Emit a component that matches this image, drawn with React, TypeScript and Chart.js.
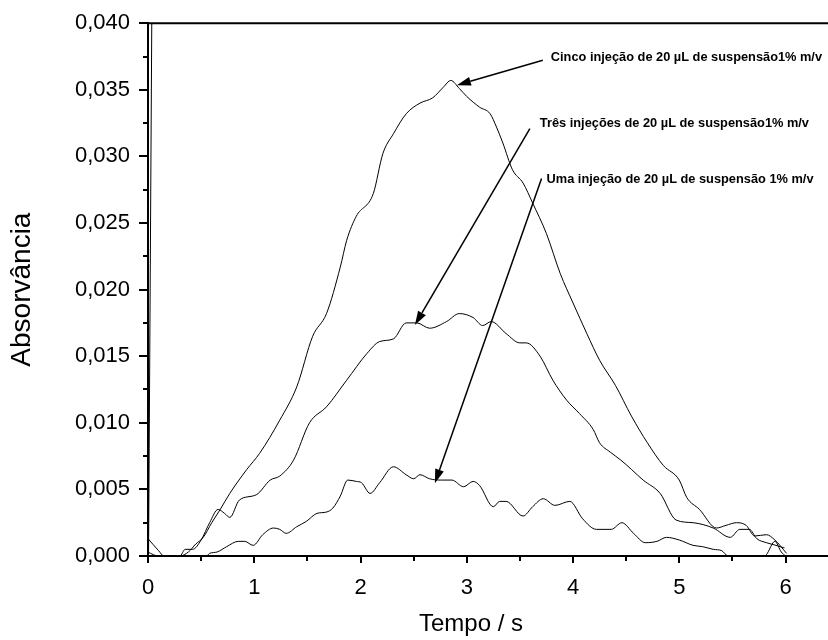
import React, { useEffect, useRef } from 'react';
import { Chart, registerables } from 'chart.js';

Chart.register(...registerables);

// Tempo (s), Absorvância
const cinco: [number, number][] = [
  [0, 0.0003], [0.05, 0.0001], [0.1, 0], [0.3, 0], [0.38, 0.0003], [0.45, 0.0009], [0.52, 0.0014],
  [0.6, 0.0025], [0.68, 0.0035], [0.77, 0.0047], [0.93, 0.0065], [1.05, 0.0077], [1.24, 0.0102],
  [1.4, 0.0127], [1.55, 0.0165], [1.68, 0.0182], [1.81, 0.0217], [1.87, 0.0237], [1.96, 0.0255],
  [2.12, 0.0272], [2.21, 0.0302], [2.31, 0.0317], [2.43, 0.0332], [2.56, 0.034], [2.68, 0.0344],
  [2.78, 0.0352], [2.85, 0.0357], [2.93, 0.0351], [3.0, 0.0345], [3.12, 0.0337], [3.22, 0.0332],
  [3.28, 0.0322], [3.34, 0.031], [3.43, 0.029], [3.53, 0.028], [3.62, 0.0265], [3.75, 0.0242],
  [3.88, 0.0212], [4.0, 0.019], [4.13, 0.0167], [4.25, 0.0147], [4.4, 0.0128], [4.55, 0.0105],
  [4.7, 0.0085], [4.85, 0.0068], [5.0, 0.0057], [5.07, 0.0044], [5.19, 0.0035], [5.35, 0.0021],
  [5.44, 0.0023], [5.54, 0.0025], [5.63, 0.0023], [5.71, 0.0015], [5.82, 0.0016], [5.9, 0.0012],
  [6.01, 0.0002],
];

const tres: [number, number][] = [
  [0, 0.0013], [0.1, 0.0004], [0.15, 0], [0.3, 0], [0.35, 0.0005], [0.42, 0.0005], [0.5, 0.0012],
  [0.58, 0.0025], [0.66, 0.0035], [0.72, 0.0032], [0.77, 0.0029], [0.86, 0.0042], [1.02, 0.0046],
  [1.15, 0.0057], [1.24, 0.006], [1.37, 0.0072], [1.52, 0.01], [1.68, 0.0112], [1.87, 0.0132],
  [2.06, 0.0152], [2.18, 0.0161], [2.31, 0.0163], [2.43, 0.0175], [2.53, 0.0175], [2.65, 0.0171],
  [2.81, 0.0176], [2.93, 0.0182], [3.06, 0.0179], [3.15, 0.0173], [3.23, 0.0176], [3.37, 0.0167],
  [3.5, 0.016], [3.56, 0.016], [3.69, 0.015], [3.81, 0.0132], [3.94, 0.0117], [4.06, 0.0107],
  [4.19, 0.0095], [4.25, 0.0085], [4.35, 0.0078], [4.45, 0.0072], [4.55, 0.0065], [4.66, 0.0057],
  [4.82, 0.0047], [4.97, 0.0027], [5.13, 0.0025], [5.32, 0.0021], [5.48, 0.0014], [5.57, 0.002],
  [5.66, 0.002], [5.73, 0.0013], [5.82, 0.001], [5.91, 0.0008], [5.99, 0.0006],
];

const uma: [number, number][] = [
  [0.3, 0], [0.55, 0], [0.58, 0.0002], [0.65, 0.0003], [0.74, 0.0007], [0.85, 0.0011], [0.91, 0.0011],
  [0.99, 0.0008], [1.08, 0.0016], [1.18, 0.0021], [1.24, 0.002], [1.3, 0.0017], [1.4, 0.0022],
  [1.49, 0.0026], [1.59, 0.0032], [1.68, 0.0033], [1.74, 0.0036], [1.81, 0.0045], [1.88, 0.0057],
  [1.96, 0.0056], [2.01, 0.0055], [2.09, 0.0047], [2.18, 0.0055], [2.31, 0.0067], [2.43, 0.0061],
  [2.5, 0.0058], [2.56, 0.0061], [2.65, 0.0058], [2.75, 0.0057], [2.86, 0.0057], [2.97, 0.0052],
  [3.06, 0.0056], [3.12, 0.0053], [3.25, 0.0037], [3.31, 0.0041], [3.37, 0.0041], [3.53, 0.003],
  [3.62, 0.0037], [3.72, 0.0043], [3.83, 0.0038], [3.97, 0.0041], [4.09, 0.0028], [4.22, 0.002],
  [4.36, 0.002], [4.46, 0.0025], [4.57, 0.0017], [4.68, 0.001], [4.79, 0.0011], [4.88, 0.0014],
  [5.0, 0.0012], [5.13, 0.0008], [5.22, 0.0007], [5.32, 0.0005], [5.4, 0.0004], [5.46, 0],
  [5.8, 0], [5.82, 0.0001], [5.9, 0.0011], [5.96, 0.0003], [6.0, 0],
];

const pico: [number, number][] = [
  [0.005, 0], [0.04, 0.046],
];

const xMajorTicks = [0, 1, 2, 3, 4, 5, 6];
const xMinorTicks = [0.5, 1.5, 2.5, 3.5, 4.5, 5.5];
const yMajorTicks = [0, 0.005, 0.01, 0.015, 0.02, 0.025, 0.03, 0.035, 0.04];
const yMinorTicks = [0.0025, 0.0075, 0.0125, 0.0175, 0.0225, 0.0275, 0.0325, 0.0375];

const annotationTexts = [
  'Cinco injeção de 20 µL de suspensão1% m/v',
  'Três injeções de 20 µL de suspensão1% m/v',
  'Uma injeção de 20 µL de suspensão 1% m/v',
];
const arrowFrom: [number, number][] = [[3.716, 0.03722], [3.594, 0.03209], [3.704, 0.02834]];
const arrowTo: [number, number][] = [[2.907, 0.03535], [2.512, 0.01734], [2.7, 0.00546]];
const textOffset: [number, number][] = [[8, -3], [10, -5], [5, 1]];

const xTitle = 'Tempo / s';
const yTitle = 'Absorvância';

const FONT = '"Liberation Sans", Arial, sans-serif';

function toPts(d: [number, number][]) {
  return d.map(([x, y]) => ({ x, y }));
}

const decorPlugin = {
  id: 'decor',
  afterDraw(chart: any) {
    const { ctx, chartArea } = chart;
    const xs = chart.scales.x;
    const ys = chart.scales.y;
    ctx.save();
    ctx.strokeStyle = '#000';
    ctx.fillStyle = '#000';
    // top frame line
    ctx.lineWidth = 2;
    ctx.beginPath();
    ctx.moveTo(chartArea.left - 1, chartArea.top);
    ctx.lineTo(chartArea.right, chartArea.top);
    ctx.stroke();
    // ticks
    ctx.lineWidth = 2;
    ctx.beginPath();
    for (const v of xMajorTicks) {
      const px = Math.round(xs.getPixelForValue(v));
      ctx.moveTo(px, chartArea.bottom);
      ctx.lineTo(px, chartArea.bottom + 7);
    }
    for (const v of xMinorTicks) {
      const px = Math.round(xs.getPixelForValue(v));
      ctx.moveTo(px, chartArea.bottom);
      ctx.lineTo(px, chartArea.bottom + 5);
    }
    for (const v of yMajorTicks) {
      const py = Math.round(ys.getPixelForValue(v));
      ctx.moveTo(chartArea.left, py);
      ctx.lineTo(chartArea.left - 9, py);
    }
    for (const v of yMinorTicks) {
      const py = Math.round(ys.getPixelForValue(v));
      ctx.moveTo(chartArea.left, py);
      ctx.lineTo(chartArea.left - 5, py);
    }
    ctx.stroke();

    // arrows + annotation texts
    ctx.font = `bold 12.8px ${FONT}`;
    ctx.textAlign = 'left';
    ctx.textBaseline = 'middle';
    for (let i = 0; i < annotationTexts.length; i++) {
      const x1 = xs.getPixelForValue(arrowFrom[i][0]);
      const y1 = ys.getPixelForValue(arrowFrom[i][1]);
      const x2 = xs.getPixelForValue(arrowTo[i][0]);
      const y2 = ys.getPixelForValue(arrowTo[i][1]);
      const ang = Math.atan2(y2 - y1, x2 - x1);
      const headLen = 14;
      const headW = 4.5;
      const bx = x2 - headLen * Math.cos(ang);
      const by = y2 - headLen * Math.sin(ang);
      ctx.lineWidth = 1.5;
      ctx.beginPath();
      ctx.moveTo(x1, y1);
      ctx.lineTo(bx, by);
      ctx.stroke();
      ctx.beginPath();
      ctx.moveTo(x2, y2);
      ctx.lineTo(bx + headW * Math.sin(ang), by - headW * Math.cos(ang));
      ctx.lineTo(bx - headW * Math.sin(ang), by + headW * Math.cos(ang));
      ctx.closePath();
      ctx.fill();
      ctx.fillText(annotationTexts[i], x1 + textOffset[i][0], y1 + textOffset[i][1]);
    }

    // axis titles
    ctx.font = `24px ${FONT}`;
    ctx.textAlign = 'center';
    ctx.textBaseline = 'alphabetic';
    ctx.fillText(xTitle, chartArea.left + 323, chartArea.bottom + 75);
    ctx.save();
    ctx.translate(22, (chartArea.top + chartArea.bottom) / 2);
    ctx.rotate(-Math.PI / 2);
    ctx.font = `28px ${FONT}`;
    ctx.textBaseline = 'middle';
    ctx.fillText(yTitle, 0, 0);
    ctx.restore();
    ctx.restore();
  },
};

export default function App() {
  const ref = useRef<HTMLCanvasElement>(null);
  useEffect(() => {
    if (!ref.current) return;
    const lineStyle = {
      borderColor: '#000',
      borderWidth: 1,
      pointRadius: 0,
      fill: false,
      cubicInterpolationMode: 'monotone' as const,
    };
    const chart = new Chart(ref.current, {
      type: 'line',
      data: {
        datasets: [
          { label: 'Cinco', data: toPts(cinco), ...lineStyle },
          { label: 'Três', data: toPts(tres), ...lineStyle },
          { label: 'Uma', data: toPts(uma), ...lineStyle },
          { label: 'pico', data: toPts(pico), ...lineStyle, cubicInterpolationMode: 'default' as const },
        ],
      },
      options: {
        animation: false,
        responsive: false,
        layout: { padding: { top: 23, left: 0, right: 0, bottom: 0 } },
        plugins: { legend: { display: false }, tooltip: { enabled: false } },
        scales: {
          x: {
            type: 'linear',
            min: 0,
            max: 6.4,
            grid: { display: false },
            border: { display: true, color: '#000', width: 2 },
            ticks: {
              stepSize: 1,
              includeBounds: false,
              color: '#000',
              padding: 11,
              font: { family: FONT, size: 22 },
              maxRotation: 0,
            },
            afterFit: (s: any) => { s.height = 84; },
          },
          y: {
            type: 'linear',
            min: 0,
            max: 0.04,
            grid: { display: false },
            border: { display: true, color: '#000', width: 2 },
            ticks: {
              stepSize: 0.005,
              color: '#000',
              padding: 10,
              font: { family: FONT, size: 22 },
              callback: (v: any) => Number(v).toFixed(3).replace('.', ','),
            },
            afterFit: (s: any) => { s.width = 148; },
          },
        },
      },
      plugins: [decorPlugin],
    });
    return () => chart.destroy();
  }, []);
  return (
    <div style={{ position: 'absolute', left: 0, top: 0, width: 828, height: 640, background: '#fff' }}>
      <canvas ref={ref} width={828} height={640} style={{ display: 'block' }} />
    </div>
  );
}
